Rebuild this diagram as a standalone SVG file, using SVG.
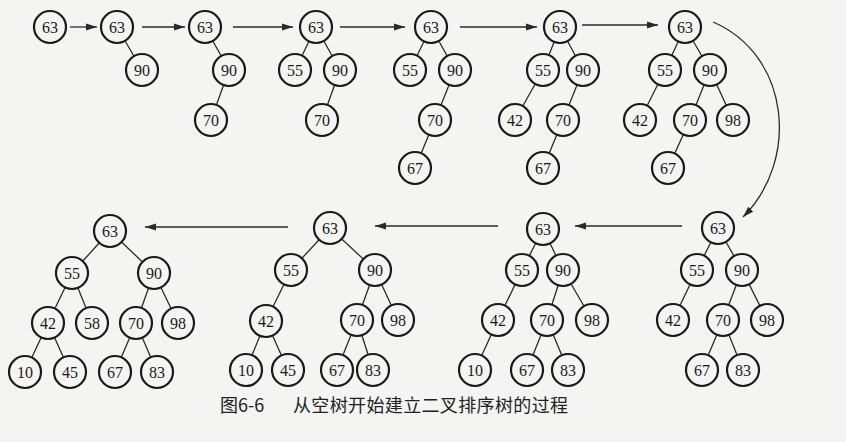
<svg xmlns="http://www.w3.org/2000/svg" width="846" height="442" viewBox="0 0 846 442">
<style>
.n circle{fill:#f4f4f2;stroke:#1a1a1a;stroke-width:2.2}
.n text{font-family:"Liberation Serif","Times New Roman","DejaVu Serif",serif;font-size:16px;fill:#1a1a1a;text-anchor:middle;dominant-baseline:central}
.e line{stroke:#2a2a2a;stroke-width:1.3}
.arr{stroke:#2a2a2a;stroke-width:1.3;fill:none;marker-end:url(#ah)}
.cap{font-family:"Noto Sans CJK SC","Noto Sans",sans-serif;font-size:18px;fill:#222}
</style>
<defs>
<marker id="ah" markerUnits="userSpaceOnUse" markerWidth="12" markerHeight="8" refX="11" refY="4" orient="auto">
<path d="M0,0.5 L11,4 L0,7.5 Z" fill="#2a2a2a"/>
</marker>
</defs>
<rect width="846" height="442" fill="#f4f4f2"/>

<g id="connectors">
<g class="e">
<line x1="117" y1="27" x2="142" y2="70"/>
<line x1="205" y1="27" x2="229" y2="70"/><line x1="229" y1="70" x2="211" y2="120"/>
<line x1="316" y1="27" x2="295" y2="70"/><line x1="316" y1="27" x2="340" y2="70"/><line x1="340" y1="70" x2="322" y2="120"/>
<line x1="431" y1="27" x2="410" y2="70"/><line x1="431" y1="27" x2="455" y2="70"/><line x1="455" y1="70" x2="435" y2="120"/><line x1="435" y1="120" x2="415" y2="168"/>
<line x1="560" y1="27" x2="543" y2="70"/><line x1="560" y1="27" x2="583" y2="70"/><line x1="543" y1="70" x2="515" y2="120"/><line x1="583" y1="70" x2="563" y2="120"/><line x1="563" y1="120" x2="543" y2="168"/>
<line x1="685" y1="27" x2="665" y2="70"/><line x1="685" y1="27" x2="710" y2="70"/><line x1="665" y1="70" x2="640" y2="120"/><line x1="710" y1="70" x2="690" y2="120"/><line x1="710" y1="70" x2="733" y2="120"/><line x1="690" y1="120" x2="668" y2="168"/>
<line x1="718" y1="228" x2="697" y2="270"/><line x1="718" y1="228" x2="742" y2="270"/><line x1="697" y1="270" x2="673" y2="320"/><line x1="742" y1="270" x2="723" y2="320"/><line x1="742" y1="270" x2="767" y2="320"/><line x1="723" y1="320" x2="702" y2="370"/><line x1="723" y1="320" x2="743" y2="370"/>
<line x1="543" y1="229" x2="522" y2="270"/><line x1="543" y1="229" x2="563" y2="270"/><line x1="522" y1="270" x2="498" y2="320"/><line x1="563" y1="270" x2="547" y2="320"/><line x1="563" y1="270" x2="592" y2="320"/><line x1="498" y1="320" x2="475" y2="370"/><line x1="547" y1="320" x2="527" y2="370"/><line x1="547" y1="320" x2="568" y2="370"/>
<line x1="330" y1="228" x2="291" y2="270"/><line x1="330" y1="228" x2="375" y2="270"/><line x1="291" y1="270" x2="266" y2="321"/><line x1="375" y1="270" x2="357" y2="320"/><line x1="375" y1="270" x2="398" y2="320"/><line x1="266" y1="321" x2="246" y2="370"/><line x1="266" y1="321" x2="288" y2="370"/><line x1="357" y1="320" x2="337" y2="370"/><line x1="357" y1="320" x2="373" y2="370"/>
<line x1="110" y1="231" x2="72" y2="273"/><line x1="110" y1="231" x2="154" y2="273"/><line x1="72" y1="273" x2="48" y2="323"/><line x1="72" y1="273" x2="92" y2="323"/><line x1="154" y1="273" x2="136" y2="323"/><line x1="154" y1="273" x2="178" y2="323"/><line x1="48" y1="323" x2="25" y2="372"/><line x1="48" y1="323" x2="70" y2="372"/><line x1="136" y1="323" x2="115" y2="372"/><line x1="136" y1="323" x2="157" y2="372"/>
</g>
<line class="arr" x1="70" y1="27" x2="97" y2="27"/>
<line class="arr" x1="142" y1="27" x2="185" y2="27"/>
<line class="arr" x1="233" y1="27" x2="293" y2="27"/>
<line class="arr" x1="340" y1="27" x2="405" y2="27"/>
<line class="arr" x1="460" y1="27" x2="537" y2="27"/>
<line class="arr" x1="582" y1="25" x2="658" y2="25"/>
<path class="arr" d="M713,22 C790,55 800,160 743,217"/>
<line class="arr" x1="682" y1="226" x2="575" y2="226"/>
<line class="arr" x1="498" y1="226" x2="375" y2="226"/>
<line class="arr" x1="288" y1="227" x2="145" y2="227"/>
</g>

<g id="tree1">
<g id="a63" class="n"><circle cx="50" cy="27" r="16"/><text x="50" y="27">63</text></g>
</g>
<g id="tree2">
<g id="b63" class="n"><circle cx="117" cy="27" r="16"/><text x="117" y="27">63</text></g>
<g id="b90" class="n"><circle cx="142" cy="70" r="16"/><text x="142" y="70">90</text></g>
</g>
<g id="tree3">
<g id="c63" class="n"><circle cx="205" cy="27" r="16"/><text x="205" y="27">63</text></g>
<g id="c90" class="n"><circle cx="229" cy="70" r="16"/><text x="229" y="70">90</text></g>
<g id="c70" class="n"><circle cx="211" cy="120" r="16"/><text x="211" y="120">70</text></g>
</g>
<g id="tree4">
<g id="d63" class="n"><circle cx="316" cy="27" r="16"/><text x="316" y="27">63</text></g>
<g id="d55" class="n"><circle cx="295" cy="70" r="16"/><text x="295" y="70">55</text></g>
<g id="d90" class="n"><circle cx="340" cy="70" r="16"/><text x="340" y="70">90</text></g>
<g id="d70" class="n"><circle cx="322" cy="120" r="16"/><text x="322" y="120">70</text></g>
</g>
<g id="tree5">
<g id="e63" class="n"><circle cx="431" cy="27" r="16"/><text x="431" y="27">63</text></g>
<g id="e55" class="n"><circle cx="410" cy="70" r="16"/><text x="410" y="70">55</text></g>
<g id="e90" class="n"><circle cx="455" cy="70" r="16"/><text x="455" y="70">90</text></g>
<g id="e70" class="n"><circle cx="435" cy="120" r="16"/><text x="435" y="120">70</text></g>
<g id="e67" class="n"><circle cx="415" cy="168" r="16"/><text x="415" y="168">67</text></g>
</g>
<g id="tree6">
<g id="f63" class="n"><circle cx="560" cy="27" r="16"/><text x="560" y="27">63</text></g>
<g id="f55" class="n"><circle cx="543" cy="70" r="16"/><text x="543" y="70">55</text></g>
<g id="f90" class="n"><circle cx="583" cy="70" r="16"/><text x="583" y="70">90</text></g>
<g id="f42" class="n"><circle cx="515" cy="120" r="16"/><text x="515" y="120">42</text></g>
<g id="f70" class="n"><circle cx="563" cy="120" r="16"/><text x="563" y="120">70</text></g>
<g id="f67" class="n"><circle cx="543" cy="168" r="16"/><text x="543" y="168">67</text></g>
</g>
<g id="tree7">
<g id="g63" class="n"><circle cx="685" cy="27" r="16"/><text x="685" y="27">63</text></g>
<g id="g55" class="n"><circle cx="665" cy="70" r="16"/><text x="665" y="70">55</text></g>
<g id="g90" class="n"><circle cx="710" cy="70" r="16"/><text x="710" y="70">90</text></g>
<g id="g42" class="n"><circle cx="640" cy="120" r="16"/><text x="640" y="120">42</text></g>
<g id="g70" class="n"><circle cx="690" cy="120" r="16"/><text x="690" y="120">70</text></g>
<g id="g98" class="n"><circle cx="733" cy="120" r="16"/><text x="733" y="120">98</text></g>
<g id="g67" class="n"><circle cx="668" cy="168" r="16"/><text x="668" y="168">67</text></g>
</g>
<g id="tree8">
<g id="h63" class="n"><circle cx="718" cy="228" r="16"/><text x="718" y="228">63</text></g>
<g id="h55" class="n"><circle cx="697" cy="270" r="16"/><text x="697" y="270">55</text></g>
<g id="h90" class="n"><circle cx="742" cy="270" r="16"/><text x="742" y="270">90</text></g>
<g id="h42" class="n"><circle cx="673" cy="320" r="16"/><text x="673" y="320">42</text></g>
<g id="h70" class="n"><circle cx="723" cy="320" r="16"/><text x="723" y="320">70</text></g>
<g id="h98" class="n"><circle cx="767" cy="320" r="16"/><text x="767" y="320">98</text></g>
<g id="h67" class="n"><circle cx="702" cy="370" r="16"/><text x="702" y="370">67</text></g>
<g id="h83" class="n"><circle cx="743" cy="370" r="16"/><text x="743" y="370">83</text></g>
</g>
<g id="tree9">
<g id="i63" class="n"><circle cx="543" cy="229" r="16"/><text x="543" y="229">63</text></g>
<g id="i55" class="n"><circle cx="522" cy="270" r="16"/><text x="522" y="270">55</text></g>
<g id="i90" class="n"><circle cx="563" cy="270" r="16"/><text x="563" y="270">90</text></g>
<g id="i42" class="n"><circle cx="498" cy="320" r="16"/><text x="498" y="320">42</text></g>
<g id="i70" class="n"><circle cx="547" cy="320" r="16"/><text x="547" y="320">70</text></g>
<g id="i98" class="n"><circle cx="592" cy="320" r="16"/><text x="592" y="320">98</text></g>
<g id="i10" class="n"><circle cx="475" cy="370" r="16"/><text x="475" y="370">10</text></g>
<g id="i67" class="n"><circle cx="527" cy="370" r="16"/><text x="527" y="370">67</text></g>
<g id="i83" class="n"><circle cx="568" cy="370" r="16"/><text x="568" y="370">83</text></g>
</g>
<g id="tree10">
<g id="j63" class="n"><circle cx="330" cy="228" r="16"/><text x="330" y="228">63</text></g>
<g id="j55" class="n"><circle cx="291" cy="270" r="16"/><text x="291" y="270">55</text></g>
<g id="j90" class="n"><circle cx="375" cy="270" r="16"/><text x="375" y="270">90</text></g>
<g id="j42" class="n"><circle cx="266" cy="321" r="16"/><text x="266" y="321">42</text></g>
<g id="j70" class="n"><circle cx="357" cy="320" r="16"/><text x="357" y="320">70</text></g>
<g id="j98" class="n"><circle cx="398" cy="320" r="16"/><text x="398" y="320">98</text></g>
<g id="j10" class="n"><circle cx="246" cy="370" r="16"/><text x="246" y="370">10</text></g>
<g id="j45" class="n"><circle cx="288" cy="370" r="16"/><text x="288" y="370">45</text></g>
<g id="j67" class="n"><circle cx="337" cy="370" r="16"/><text x="337" y="370">67</text></g>
<g id="j83" class="n"><circle cx="373" cy="370" r="16"/><text x="373" y="370">83</text></g>
</g>
<g id="tree11">
<g id="k63" class="n"><circle cx="110" cy="231" r="16"/><text x="110" y="231">63</text></g>
<g id="k55" class="n"><circle cx="72" cy="273" r="16"/><text x="72" y="273">55</text></g>
<g id="k90" class="n"><circle cx="154" cy="273" r="16"/><text x="154" y="273">90</text></g>
<g id="k42" class="n"><circle cx="48" cy="323" r="16"/><text x="48" y="323">42</text></g>
<g id="k58" class="n"><circle cx="92" cy="323" r="16"/><text x="92" y="323">58</text></g>
<g id="k70" class="n"><circle cx="136" cy="323" r="16"/><text x="136" y="323">70</text></g>
<g id="k98" class="n"><circle cx="178" cy="323" r="16"/><text x="178" y="323">98</text></g>
<g id="k10" class="n"><circle cx="25" cy="372" r="16"/><text x="25" y="372">10</text></g>
<g id="k45" class="n"><circle cx="70" cy="372" r="16"/><text x="70" y="372">45</text></g>
<g id="k67" class="n"><circle cx="115" cy="372" r="16"/><text x="115" y="372">67</text></g>
<g id="k83" class="n"><circle cx="157" cy="372" r="16"/><text x="157" y="372">83</text></g>
</g>

<g id="caption">
<text class="cap" x="220" y="412">图6-6</text>
<text class="cap" x="293" y="412" textLength="275" lengthAdjust="spacing">从空树开始建立二叉排序树的过程</text>
</g>
</svg>
